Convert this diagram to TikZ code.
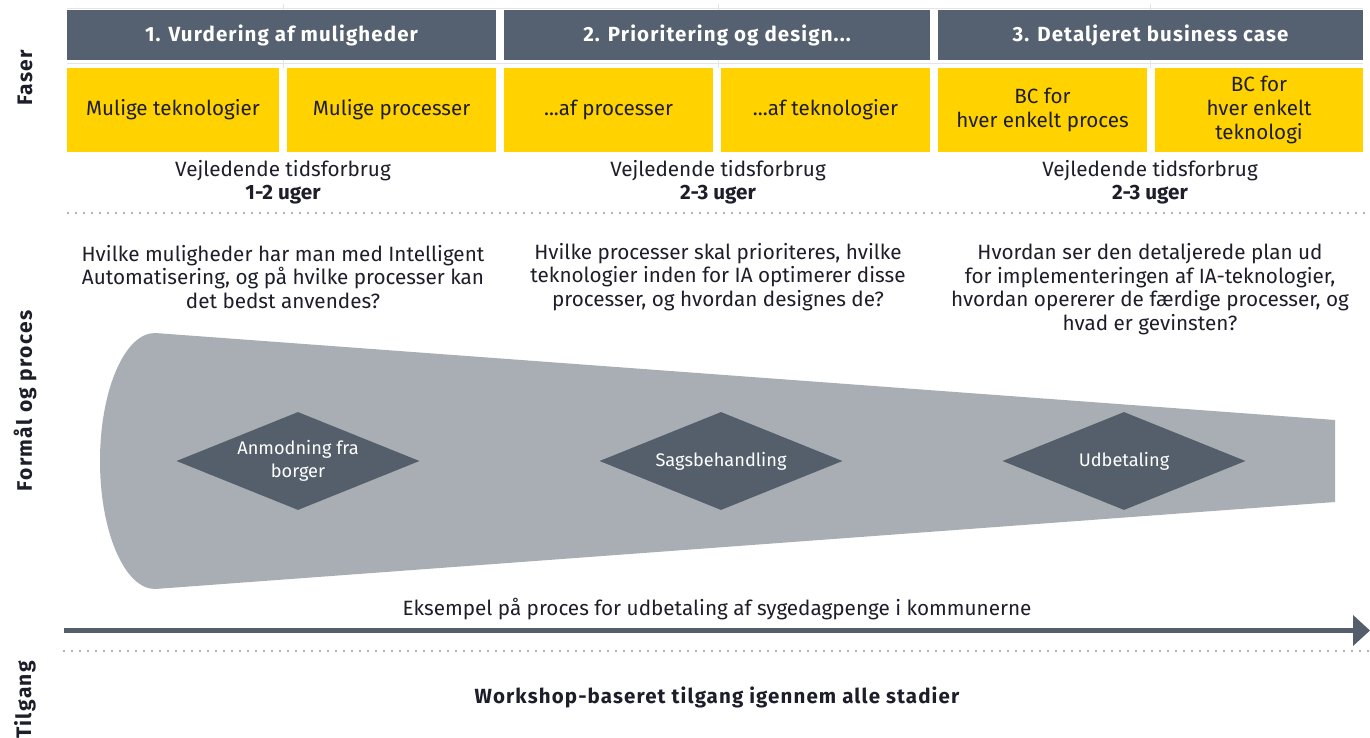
\documentclass[tikz,border=0pt]{standalone}
\usepackage{fontspec}
\setmainfont{Fira Sans}
\newfontfamily\spacedfont[LetterSpace=5.5]{Fira Sans}
\newfontfamily\sidefont[LetterSpace=6.5]{Fira Sans}
\usetikzlibrary{shapes.geometric,arrows.meta}
\definecolor{hdrgray}{HTML}{556070}
\definecolor{eyyellow}{HTML}{FFD200}
\definecolor{funnelgray}{HTML}{A8AEB4}
\definecolor{diagray}{HTML}{545F6B}
\definecolor{txt}{HTML}{1E1E2A}
\definecolor{dotgray}{HTML}{B0B4B8}
\definecolor{faint}{HTML}{E2E4E6}
\tikzset{
  hdr/.style={fill=hdrgray,text=white,font=\spacedfont\bfseries\fontsize{20.5}{24}\selectfont,minimum height=50pt,inner sep=0pt,anchor=center},
  ybox/.style={fill=eyyellow,text=txt,font=\fontsize{20.6}{24}\selectfont,minimum height=84pt,inner sep=0pt,align=center},
  body/.style={text=txt,font=\fontsize{20.7}{23.5}\selectfont,align=center,inner sep=0pt},
  side/.style={text=txt,font=\sidefont\bfseries\fontsize{21}{24}\selectfont,rotate=90,inner sep=0pt},
  dia/.style={diamond,fill=diagray,text=white,font=\fontsize{18.2}{23}\selectfont,align=center,minimum width=243pt,minimum height=98pt,inner sep=0pt,aspect=2.48},
  dots/.style={dotgray,line width=2pt,dash pattern=on 2pt off 6pt},
}
\begin{document}
\begin{tikzpicture}[x=1pt,y=-1pt]
\useasboundingbox (0,0) rectangle (1370,738);
\fill[white] (0,0) rectangle (1370,738);
% faint grid lines
\draw[faint,line width=1pt] (67,9) -- (1363,9);
\draw[faint,line width=1pt] (67,64) -- (1363,64);
\foreach \x in {283,718,1150} \draw[faint,line width=1pt] (\x,4) -- (\x,10) (\x,60) -- (\x,68);
% headers
\node[hdr,minimum width=429pt] (h1) at (281.5,35) {1. Vurdering af muligheder};
\node[hdr,minimum width=426pt] (h2) at (717,35) {2. Prioritering og design...};
\node[hdr,minimum width=425pt] (h3) at (1150.5,35) {3. Detaljeret business case};
% yellow boxes
\node[ybox,minimum width=212pt] (y1) at (173,110) {Mulige teknologier};
\node[ybox,minimum width=209pt] (y2) at (391.5,110) {Mulige processer};
\node[ybox,minimum width=209pt] (y3) at (608.5,110) {...af processer};
\node[ybox,minimum width=209pt] (y4) at (825.5,110) {...af teknologier};
\node[ybox,minimum width=209pt] (y5) at (1042.5,110) {BC for\\hver enkelt proces};
\node[ybox,minimum width=208pt] (y6) at (1259,110) {BC for\\hver enkelt\\teknologi};
% time
\node[body] (t1) at (283,182) {Vejledende tidsforbrug\\\textbf{1-2 uger}};
\node[body] (t2) at (718,182) {Vejledende tidsforbrug\\\textbf{2-3 uger}};
\node[body] (t3) at (1150,182) {Vejledende tidsforbrug\\\textbf{2-3 uger}};
% dotted separators
\draw[dots] (67,213) -- (1370,213);
\draw[dots] (63,651) -- (1370,651);
% questions
\node[body] (q1) at (283,277) {Hvilke muligheder har man med Intelligent\\Automatisering, og på hvilke processer kan\\det bedst anvendes?};
\node[body] (q2) at (718,277) {Hvilke processer skal prioriteres, hvilke\\teknologier inden for IA optimerer disse\\processer, og hvordan designes de?};
\node[body] (q3) at (1150,289) {Hvordan ser den detaljerede plan ud\\for implementeringen af IA-teknologier,\\hvordan opererer de færdige processer, og\\hvad er gevinsten?};
% funnel
\fill[funnelgray] (155,333) -- (1335,420) -- (1335,502) -- (155,589) arc[start angle=270,end angle=90,x radius=55pt,y radius=128pt] -- cycle;
% diamonds
\node[dia] (d1) at (298,461) {Anmodning fra\\borger};
\node[dia] (d2) at (721,461) {Sagsbehandling};
\node[dia] (d3) at (1124,461) {Udbetaling};
% arrow
\node[body] (ex) at (717,609) {Eksempel på proces for udbetaling af sygedagpenge i kommunerne};
\coordinate (as) at (64,630.5);
\coordinate (ae) at (1370,630.5);
\draw[diagray,line width=5pt,-{Triangle[length=17pt,width=30pt]}] (as) -- (ae);
% approach
\node[body,font=\spacedfont\bfseries\fontsize{20.5}{24}\selectfont] (ws) at (717,697) {Workshop-baseret tilgang igennem alle stadier};
% side labels
\node[side] (s1) at (25,78) {Faser};
\node[side] (s2) at (25,401) {Formål og proces};
\node[side] (s3) at (25,700) {Tilgang};
\end{tikzpicture}
\end{document}
